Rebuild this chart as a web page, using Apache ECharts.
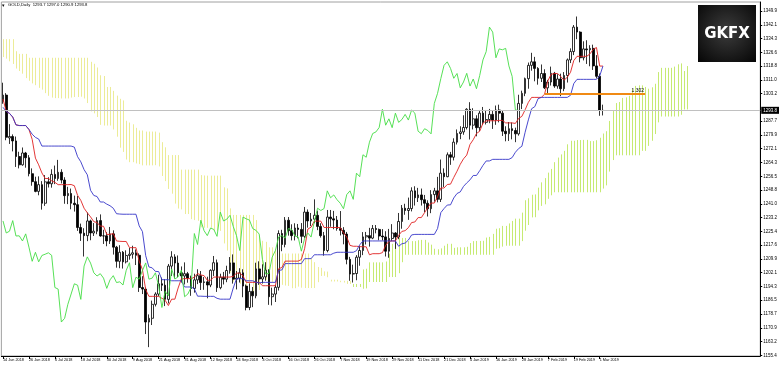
<!DOCTYPE html>
<html><head><meta charset="utf-8">
<script src="https://cdn.jsdelivr.net/npm/echarts@6/dist/echarts.min.js"></script>
<style>html,body{margin:0;padding:0;background:#fff}#c{width:780px;height:365px}</style>
</head><body><div id="c"></div>
<script>
// ---- data ----
const open=[1298.9,1302.4,1278.2,1279.0,1276.5,1267.7,1263.0,1269.7,1267.0,1258.0,
1253.5,1248.0,1251.8,1241.3,1253.4,1252.3,1257.6,1255.3,1258.8,1254.4,
1245.6,1246.8,1241.3,1240.5,1227.6,1224.4,1223.0,1231.3,1224.5,1225.5,
1231.5,1222.8,1222.9,1220.0,1224.0,1216.5,1208.5,1213.6,1208.2,1211.8,
1212.5,1213.3,1211.9,1193.7,1192.8,1174.2,1176.3,1184.2,1190.0,1195.8,
1195.0,1187.0,1205.8,1211.0,1207.5,1202.0,1200.2,1201.5,1199.0,1193.2,
1198.0,1200.4,1196.5,1196.9,1195.1,1203.4,1207.7,1193.6,1199.5,1198.4,
1203.3,1207.6,1198.4,1199.0,1202.0,1194.5,1182.4,1191.5,1189.0,1204.2,
1198.5,1199.7,1203.5,1188.5,1190.0,1193.8,1224.2,1218.0,1231.7,1225.8,
1223.0,1227.3,1226.5,1222.6,1236.3,1231.3,1232.3,1234.5,1228.2,1223.0,
1214.6,1233.5,1232.5,1231.8,1227.0,1226.0,1223.9,1209.6,1201.3,1201.6,
1210.8,1214.6,1222.3,1223.0,1221.6,1227.0,1226.5,1222.8,1222.3,1214.2,
1221.4,1224.5,1222.2,1231.0,1238.5,1237.2,1238.3,1248.3,1244.4,1246.0,
1243.3,1241.3,1238.2,1246.2,1248.3,1243.5,1258.3,1256.3,1268.7,1267.3,
1275.8,1280.7,1281.6,1284.1,1294.4,1285.4,1289.0,1284.0,1292.2,1287.0,
1288.6,1291.5,1288.3,1294.0,1292.2,1282.0,1280.6,1283.4,1282.4,1280.5,
1297.7,1303.4,1311.7,1319.2,1321.2,1317.5,1311.9,1314.6,1306.5,1309.8,
1314.7,1307.5,1311.5,1306.0,1313.5,1322.3,1327.0,1340.8,1338.0,1323.5,
1328.5,1328.0,1328.8,1318.9,1313.0,1293.7];
const high=[1309.4,1303.5,1286.0,1280.2,1279.0,1270.4,1272.8,1270.3,1268.5,1261.0,
1256.3,1256.5,1253.8,1257.2,1256.0,1260.5,1262.6,1265.8,1260.5,1256.0,
1250.6,1249.6,1245.6,1245.4,1229.8,1227.2,1236.1,1232.0,1230.1,1233.4,
1235.0,1226.3,1225.0,1227.9,1226.0,1217.2,1217.6,1214.3,1214.7,1216.0,
1217.3,1215.2,1213.0,1200.1,1193.7,1178.5,1186.3,1191.0,1200.9,1199.3,
1198.4,1207.0,1214.2,1212.5,1211.8,1205.6,1207.9,1202.5,1200.4,1201.5,
1204.0,1203.0,1199.6,1199.8,1204.0,1211.5,1209.5,1201.5,1202.5,1206.0,
1210.9,1212.4,1203.0,1204.6,1204.0,1195.4,1196.0,1194.0,1207.7,1208.5,
1206.8,1208.0,1204.0,1193.6,1195.2,1226.0,1226.3,1233.5,1233.5,1229.4,
1230.0,1229.6,1230.1,1239.2,1237.8,1235.8,1243.5,1237.1,1230.0,1225.1,
1237.5,1237.5,1237.0,1234.1,1236.9,1227.8,1225.1,1211.0,1206.6,1212.0,
1217.0,1225.0,1225.1,1227.4,1229.0,1229.0,1227.0,1226.7,1225.5,1226.8,
1229.5,1225.0,1235.8,1240.3,1241.0,1244.5,1250.3,1250.9,1250.0,1249.6,
1246.0,1243.0,1248.7,1250.0,1256.2,1266.0,1261.0,1270.0,1270.3,1278.0,
1283.0,1284.8,1291.0,1295.0,1298.4,1295.0,1291.0,1294.0,1295.7,1294.0,
1294.6,1293.4,1296.5,1297.0,1293.5,1284.8,1287.2,1286.9,1284.0,1302.6,
1304.9,1312.3,1320.8,1326.3,1324.0,1318.2,1319.7,1317.0,1311.0,1318.5,
1315.5,1314.2,1314.5,1315.4,1323.1,1328.8,1342.0,1346.8,1338.5,1332.8,
1333.4,1330.6,1330.9,1325.0,1314.6,1297.0];
const low=[1297.5,1276.9,1274.8,1270.6,1261.8,1261.0,1262.5,1261.4,1256.5,1251.2,
1247.5,1245.8,1237.7,1239.8,1250.2,1250.1,1252.1,1254.0,1252.5,1241.0,
1240.8,1237.9,1236.6,1225.7,1220.0,1211.2,1219.9,1220.4,1222.8,1223.8,
1222.4,1218.3,1217.0,1218.3,1212.3,1204.9,1204.6,1204.4,1207.3,1209.4,
1210.0,1206.4,1191.2,1190.0,1167.4,1160.0,1172.5,1183.0,1188.7,1191.7,
1183.2,1184.7,1200.2,1198.9,1199.6,1196.5,1195.4,1196.4,1189.0,1190.8,
1195.6,1192.3,1192.4,1187.6,1193.9,1200.2,1191.2,1192.7,1195.4,1196.7,
1201.5,1195.9,1192.6,1196.5,1188.2,1180.8,1180.9,1182.6,1187.6,1195.2,
1196.0,1197.5,1183.9,1183.6,1185.5,1192.0,1214.2,1216.4,1223.0,1220.3,
1220.3,1221.5,1218.8,1221.5,1227.5,1228.4,1230.0,1226.1,1221.9,1211.7,
1213.6,1228.0,1226.6,1225.8,1223.1,1218.1,1206.8,1197.5,1196.5,1197.8,
1206.0,1212.0,1218.0,1216.8,1221.0,1224.3,1220.4,1220.3,1211.2,1210.5,
1220.0,1215.5,1221.0,1226.9,1234.8,1231.9,1236.7,1240.0,1242.0,1240.0,
1236.2,1233.8,1235.7,1242.2,1241.8,1242.0,1250.5,1256.0,1263.0,1265.5,
1274.5,1277.5,1280.0,1283.0,1277.3,1283.0,1279.1,1282.0,1285.5,1285.8,
1286.5,1283.3,1285.6,1287.0,1279.3,1276.3,1276.5,1277.4,1275.8,1279.5,
1294.5,1301.8,1306.0,1316.2,1310.2,1308.3,1309.8,1305.8,1302.9,1307.8,
1306.5,1306.0,1301.8,1304.6,1309.5,1320.5,1325.0,1334.0,1320.9,1322.0,
1320.0,1318.7,1316.6,1311.8,1290.7,1290.9];
const close=[1302.4,1278.6,1279.0,1276.5,1267.7,1263.0,1269.7,1267.0,1258.0,1253.5,
1248.0,1251.8,1241.3,1253.4,1252.3,1257.6,1255.3,1258.8,1254.4,1245.6,
1246.8,1241.3,1240.5,1227.6,1224.4,1223.0,1231.3,1224.5,1225.5,1231.5,
1222.8,1222.9,1220.0,1224.0,1216.5,1208.5,1213.6,1208.2,1211.8,1212.5,
1213.3,1211.9,1193.7,1192.8,1174.2,1176.3,1184.2,1190.0,1195.8,1195.0,
1187.0,1205.8,1211.0,1207.5,1202.0,1200.2,1201.5,1199.0,1193.2,1198.0,
1200.4,1196.5,1196.9,1195.1,1203.4,1207.7,1193.6,1199.5,1198.4,1203.3,
1207.6,1198.4,1199.0,1202.0,1194.5,1182.4,1191.5,1189.0,1204.2,1198.5,
1199.7,1203.5,1188.5,1190.0,1193.8,1224.2,1218.0,1231.7,1225.8,1223.0,
1227.3,1226.5,1222.6,1236.3,1231.3,1232.3,1234.5,1228.2,1223.0,1214.6,
1233.5,1232.5,1231.8,1227.0,1226.0,1223.9,1209.6,1201.3,1201.6,1210.8,
1214.6,1222.3,1223.0,1221.6,1227.0,1226.5,1222.8,1222.3,1214.2,1221.4,
1224.5,1222.2,1231.0,1238.5,1237.2,1238.3,1248.3,1244.4,1246.0,1243.3,
1241.3,1238.2,1246.2,1248.3,1243.5,1258.3,1256.3,1268.7,1267.3,1275.8,
1280.7,1281.6,1284.1,1294.4,1285.4,1289.0,1284.0,1292.2,1287.0,1288.6,
1291.5,1288.3,1294.0,1292.2,1282.0,1280.6,1283.4,1282.4,1280.5,1297.7,
1303.4,1311.7,1319.2,1321.2,1317.5,1311.9,1314.6,1306.5,1309.8,1314.7,
1307.5,1311.5,1306.0,1313.5,1322.3,1327.0,1340.8,1338.0,1323.5,1328.5,
1328.0,1328.8,1318.9,1313.0,1294.0,1293.8];
const tenkan=[1300.2,1293.2,1292.1,1290.0,1285.6,1285.2,1285.2,1285.2,1283.0,1277.4,
1266.8,1263.0,1258.4,1255.3,1255.3,1254.0,1253.1,1251.8,1251.8,1251.8,
1251.8,1251.9,1251.2,1245.8,1242.9,1238.5,1235.9,1233.6,1230.9,1230.4,
1228.4,1228.3,1223.7,1223.7,1224.2,1220.0,1219.8,1219.7,1219.7,1216.2,
1216.2,1216.2,1208.6,1203.8,1192.5,1188.7,1188.7,1188.7,1188.7,1187.6,
1186.5,1183.5,1187.1,1187.1,1193.4,1198.6,1198.7,1198.7,1198.7,1199.5,
1201.6,1200.8,1200.4,1197.8,1197.8,1199.6,1199.6,1199.6,1199.6,1199.6,
1199.6,1200.0,1201.8,1201.8,1200.3,1196.6,1196.6,1196.6,1196.6,1196.6,
1194.7,1194.7,1194.7,1194.7,1194.7,1204.3,1205.0,1208.6,1208.6,1208.6,
1208.6,1208.6,1209.5,1215.6,1226.7,1227.8,1231.2,1231.2,1231.2,1227.6,
1227.6,1227.6,1227.6,1227.6,1227.6,1224.6,1222.2,1217.5,1217.0,1217.0,
1216.8,1216.7,1216.7,1212.2,1212.8,1212.8,1212.8,1213.4,1217.5,1219.8,
1220.0,1220.0,1223.2,1225.4,1225.8,1227.5,1230.4,1230.7,1233.2,1233.2,
1236.0,1238.9,1241.4,1241.4,1245.0,1249.9,1249.9,1251.9,1252.1,1255.9,
1259.4,1263.3,1266.4,1268.5,1274.5,1277.2,1280.7,1282.0,1286.5,1287.9,
1287.9,1287.9,1287.9,1288.1,1288.1,1286.7,1286.7,1286.7,1286.4,1289.2,
1290.4,1294.1,1298.3,1301.1,1301.1,1301.1,1301.1,1302.9,1310.4,1314.1,
1314.6,1314.6,1312.9,1310.8,1312.5,1315.3,1321.9,1324.3,1324.3,1324.3,
1324.3,1325.7,1328.2,1329.3,1318.8,1318.8];
const kijun=[1295.5,1293.2,1292.1,1290.0,1285.6,1285.2,1285.2,1285.2,1283.0,1280.3,
1278.5,1277.6,1273.6,1273.6,1273.6,1273.6,1273.6,1273.6,1273.6,1273.6,
1273.6,1273.6,1273.0,1267.6,1264.7,1260.3,1257.4,1248.6,1245.7,1245.1,
1242.0,1242.0,1240.8,1239.9,1238.5,1235.4,1235.2,1235.1,1235.1,1235.1,
1235.1,1235.1,1228.5,1225.3,1211.7,1205.3,1204.8,1202.8,1202.7,1198.1,
1198.1,1198.1,1197.5,1197.5,1197.5,1197.5,1194.0,1194.0,1194.0,1193.0,
1188.8,1188.8,1188.7,1188.7,1188.7,1188.7,1187.6,1187.1,1187.1,1187.1,
1187.1,1193.4,1198.6,1198.7,1198.7,1197.5,1197.5,1197.5,1196.7,1196.3,
1196.6,1196.6,1196.6,1196.6,1196.6,1203.4,1203.6,1207.2,1207.2,1207.2,
1207.2,1207.2,1207.2,1210.0,1210.0,1210.0,1212.2,1212.2,1212.2,1212.2,
1212.2,1212.2,1213.1,1213.6,1213.6,1213.6,1213.6,1213.6,1213.6,1214.5,
1217.8,1220.0,1220.0,1220.0,1220.0,1220.0,1220.0,1220.0,1220.0,1220.0,
1220.0,1220.0,1217.0,1218.4,1218.8,1220.5,1223.4,1223.7,1223.7,1223.7,
1223.7,1223.7,1223.7,1223.7,1227.0,1236.0,1238.3,1240.3,1240.4,1244.3,
1246.8,1247.7,1250.8,1252.8,1254.5,1257.0,1257.0,1259.7,1262.7,1265.2,
1265.2,1266.1,1266.1,1266.1,1266.1,1266.1,1266.1,1267.1,1270.1,1272.2,
1273.5,1281.4,1288.4,1294.7,1295.9,1300.4,1301.1,1301.1,1301.1,1301.1,
1301.1,1301.1,1301.1,1301.1,1301.1,1302.3,1308.9,1311.3,1311.3,1311.3,
1311.3,1311.3,1311.3,1311.3,1313.2,1318.8];
// leading spans, from the first visible bar to 26 bars past the last bar
const spanA=[1323.9,1323.0,1321.5,1320.0,1317.4,1316.0,1314.5,1312.0,1310.5,1309.0,
1308.0,1306.5,1305.5,1303.5,1302.0,1301.0,1300.7,1300.7,1300.5,1300.5,
1300.5,1301.0,1301.3,1301.3,1301.5,1300.5,
1297.9,1293.2,1292.1,1290.0,1285.6,1285.2,1285.2,1285.2,1283.0,1278.9,
1272.7,1270.3,1266.0,1264.5,1264.5,1263.8,1263.4,1262.7,1262.7,1262.7,
1262.7,1262.8,1262.1,1256.7,1253.8,1249.4,1246.7,1241.1,1238.3,1237.8,
1235.2,1235.2,1232.3,1231.8,1231.4,1227.7,1227.5,1227.4,1227.4,1225.7,
1225.7,1225.7,1218.6,1214.6,1202.1,1197.0,1196.8,1195.8,1195.7,1192.9,
1192.3,1190.8,1192.3,1192.3,1195.5,1198.1,1196.4,1196.4,1196.4,1196.3,
1195.2,1194.8,1194.6,1193.3,1193.3,1194.2,1193.6,1193.4,1193.4,1193.4,
1193.4,1196.7,1200.2,1200.3,1199.5,1197.1,1197.1,1197.1,1196.7,1196.5,
1195.7,1195.7,1195.7,1195.7,1195.7,1203.9,1204.3,1207.9,1207.9,1207.9,
1207.9,1207.9,1208.4,1212.8,1218.4,1218.9,1221.7,1221.7,1221.7,1219.9,
1219.9,1219.9,1220.4,1220.6,1220.6,1219.1,1217.9,1215.6,1215.3,1215.8,
1217.3,1218.4,1218.4,1216.1,1216.4,1216.4,1216.4,1216.7,1218.8,1219.9,
1220.0,1220.0,1220.1,1221.9,1222.3,1224.0,1226.9,1227.2,1228.5,1228.5,
1229.9,1231.3,1232.6,1232.6,1236.0,1243.0,1244.1,1246.1,1246.3,1250.1,
1253.1,1255.5,1258.6,1260.7,1264.5,1267.1,1268.9,1270.9,1274.6,1276.6,
1276.6,1277.0,1277.0,1277.1,1277.1,1276.4,1276.4,1276.9,1278.3,1280.7,
1282.0,1287.8,1293.4,1297.9,1298.5,1300.8,1301.1,1302.0,1305.8,1307.6,
1307.9,1307.9,1307.0,1306.0,1306.8,1308.8,1315.4,1317.8,1317.8,1317.8,
1317.8,1318.5,1319.8,1320.3,1316.0,1318.8];
const spanB=[1334.0,1334.0,1334.0,1334.0,1327.2,1325.7,1325.7,1325.7,
1323.5,1323.5,1323.5,1323.5,1323.5,1323.5,1323.5,1323.5,1323.5,1323.5,
1323.5,1323.5,1323.5,1323.5,1323.5,1323.5,1323.5,1323.5,1323.5,
1321.2,1320.1,1318.0,1313.6,1313.2,1307.0,1307.0,1304.8,1302.1,1300.3,
1299.4,1287.9,1286.9,1285.9,1283.9,1282.4,1282.4,1281.8,1281.8,1281.8,
1281.8,1281.2,1275.8,1272.9,1268.5,1268.5,1268.5,1268.5,1260.3,1260.3,
1260.3,1260.3,1260.3,1260.3,1257.2,1257.0,1256.9,1256.9,1256.9,1256.9,
1256.9,1250.3,1249.7,1238.4,1234.7,1234.7,1234.7,1234.7,1234.7,1234.7,
1234.7,1231.8,1223.0,1220.1,1219.5,1216.4,1216.4,1215.2,1214.3,1212.9,
1212.9,1212.9,1212.9,1212.9,1212.9,1212.9,1212.9,1212.9,1210.3,1208.0,
1205.3,1204.8,1202.8,1202.7,1198.1,1198.1,1198.1,1197.5,1197.5,1197.5,
1197.5,1194.0,1194.0,1194.0,1193.0,1193.2,1196.8,1196.8,1196.8,1196.8,
1196.8,1196.8,1199.6,1199.6,1199.6,1201.8,1208.0,
1212.2,1212.2,1212.2,1212.2,1212.2,1212.2,1212.2,1212.2,1212.2,1212.2,
1212.2,1212.2,1212.2,1212.2,1212.2,1212.2,1212.2,1212.2,1212.2,1212.2,
1212.2,1212.2,1212.2,1212.2,1212.2,1212.2,1212.2,1212.2,
1215.6,1215.9,1216.8,1217.3,1217.3,1217.3,1217.3,1217.3,1219.9,1225.8,
1229.0,1233.3,1233.4,1237.3,1239.8,1240.7,1243.8,1245.8,
1247.5,1247.5,1247.5,1247.5,1247.5,1247.5,1247.5,1247.5,1247.5,1247.5,
1247.5,1247.5,1247.5,1247.5,1247.5,
1249.6,1251.4,1259.2,1265.7,1268.4,1268.4,1268.4,1268.4,1268.4,1268.4,
1268.4,1268.4,1270.9,1270.9,1273.7,1276.6,1280.4,1287.0,1290.3,1290.3,
1290.3,1290.3,1290.3,1290.3,1291.3,1294.3,1294.3];
const yTicks=[1349.9,1342.1,1334.3,1326.6,1318.8,1311.0,1303.2,1287.7,1279.9,1272.1,
1264.3,1256.5,1248.8,1241.0,1233.2,1225.4,1217.6,1209.9,1202.1,1194.3,1186.5,1178.7,
1170.9,1163.2,1155.4];
const xTickLabels=['14 Jun 2018','26 Jun 2018','6 Jul 2018','18 Jul 2018','30 Jul 2018',
'9 Aug 2018','21 Aug 2018','31 Aug 2018','12 Sep 2018','24 Sep 2018','4 Oct 2018',
'16 Oct 2018','26 Oct 2018','7 Nov 2018','19 Nov 2018','29 Nov 2018','11 Dec 2018',
'21 Dec 2018','4 Jan 2019','16 Jan 2019','28 Jan 2019','7 Feb 2019','19 Feb 2019','1 Mar 2019'];
const lastPrice=1293.8;
const levelValue=1303.0, levelLabel='1.302', levelFrom=167, levelTo=198;
const headerText='GOLD,Daily  1293.7 1297.0 1290.9 1293.8';
const chikouShift=26;
const totalSlots=234;

// ---- trading-day categories (weekdays, no Christmas / New Year bars) ----
const MON=['Jan','Feb','Mar','Apr','May','Jun','Jul','Aug','Sep','Oct','Nov','Dec'];
const closedDays=['2018-12-25','2019-01-01'];
const cats=[];
let t=Date.UTC(2018,5,14);
while(cats.length<open.length){
  const d=new Date(t), wd=d.getUTCDay(), iso=d.toISOString().slice(0,10);
  if(wd!==0&&wd!==6&&closedDays.indexOf(iso)<0) cats.push(d.getUTCDate()+' '+MON[d.getUTCMonth()]+' '+d.getUTCFullYear());
  t+=86400000;
}
for(let k=cats.length;k<totalSlots;k++) cats.push('~'+k);
const showTick=(idx,val)=>xTickLabels.indexOf(val)>=0;

const candles=open.map((o,i)=>[o,close[i],low[i],high[i]]);
const chikou=close.slice(chikouShift);
const cloud=spanA.map((a,j)=>[j,a,spanB[j]]);
const BULL='#c6ea72', BEAR='#ecec98';
const FONT='Liberation Sans';

const chart=echarts.init(document.getElementById('c'),null,{renderer:'canvas'});
chart.setOption({
  animation:false,
  backgroundColor:'#ffffff',
  grid:{left:1,right:18,top:2,bottom:9,show:true,borderColor:'#a0a0a0',borderWidth:1},
  xAxis:{type:'category',data:cats,boundaryGap:true,
    axisLine:{lineStyle:{color:'#000',width:1}},
    axisTick:{show:true,interval:showTick,alignWithLabel:true,length:3,lineStyle:{color:'#000'}},
    axisLabel:{interval:showTick,align:'left',fontSize:3.8,fontFamily:FONT,color:'#000',margin:2},
    splitLine:{show:false}},
  yAxis:{type:'value',position:'right',min:1155.0,max:1355.0,scale:true,
    axisLine:{show:true,lineStyle:{color:'#000',width:1}},
    axisTick:{show:true,length:2,customValues:yTicks,lineStyle:{color:'#000'}},
    axisLabel:{customValues:yTicks,formatter:v=>v.toFixed(1),fontSize:4.5,fontFamily:FONT,color:'#000',margin:3},
    splitLine:{show:false}},
  graphic:[
    {type:'text',left:2,top:3,style:{text:'\u25BE',fontSize:5,fill:'#000',fontFamily:FONT}},
    {type:'text',left:8,top:3,style:{text:headerText,fontSize:4.2,fill:'#000',fontFamily:FONT}},
    {type:'rect',shape:{x:698,y:5,width:58,height:57},
      style:{fill:new echarts.graphic.RadialGradient(0.5,0.45,0.75,[{offset:0,color:'#3c3c3c'},{offset:1,color:'#050505'}])}},
    {type:'text',x:727,y:34,style:{text:'GKFX',fontSize:15,fontWeight:'bold',fill:'#ffffff',fontFamily:'DejaVu Sans',align:'center',verticalAlign:'middle'}}
  ],
  series:[
    {type:'custom',name:'cloud',z:1,data:cloud,encode:{x:0,y:[1,2]},silent:true,
      renderItem:function(params,api){
        const j=api.value(0),a=api.value(1),b=api.value(2);
        const p1=api.coord([j,a]),p2=api.coord([j,b]);
        const x=Math.round(p1[0])+0.5;
        return {type:'line',shape:{x1:x,y1:p1[1],x2:x,y2:p2[1]},
          style:{stroke:a>=b?BULL:BEAR,lineWidth:1}};
      }},
    {type:'candlestick',name:'GOLD',z:3,data:candles,barWidth:2.2,
      itemStyle:{color:'#ffffff',color0:'#000000',borderColor:'#000000',borderColor0:'#000000',borderWidth:0.8},
      markLine:{symbol:'none',silent:true,animation:false,
        data:[
          {yAxis:lastPrice,lineStyle:{color:'#c0c0c0',width:1,type:'solid'},
            label:{show:true,position:'end',formatter:lastPrice.toFixed(1),backgroundColor:'#000',color:'#fff',
              fontSize:4.5,fontFamily:FONT,padding:[1,2,1,2],distance:1}},
          [{coord:[levelFrom,levelValue],lineStyle:{color:'#f08a14',width:2,type:'solid'},
             label:{show:true,position:'insideEndTop',formatter:levelLabel,color:'#000',fontSize:5,fontFamily:FONT,distance:1}},
           {coord:[levelTo,levelValue]}]
        ]}},
    {type:'line',name:'Tenkan',z:4,data:tenkan,symbol:'none',lineStyle:{color:'#e02020',width:0.9}},
    {type:'line',name:'Kijun',z:4,data:kijun,symbol:'none',lineStyle:{color:'#3535c8',width:0.9}},
    {type:'line',name:'Chikou',z:4,data:chikou,symbol:'none',lineStyle:{color:'#44dd44',width:0.9}}
  ]
});
</script></body></html>
